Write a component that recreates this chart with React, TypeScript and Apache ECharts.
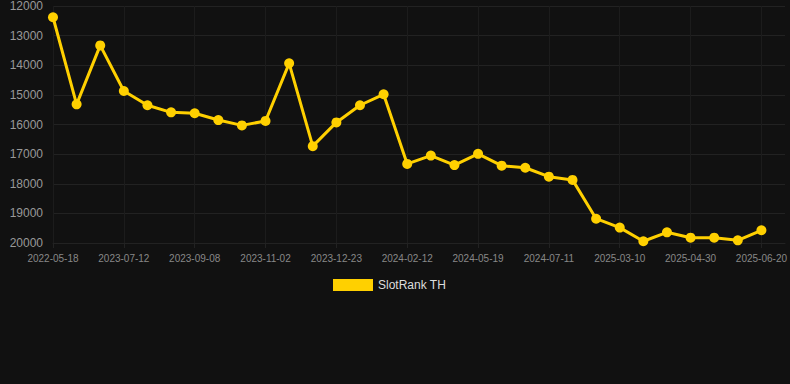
import React, { useEffect, useRef } from "react";
import * as echarts from "echarts";

const categories = [
  "2022-05-18", "2022-10-05", "2023-03-14", "2023-07-12", "2023-07-31", "2023-08-19",
  "2023-09-08", "2023-09-26", "2023-10-14", "2023-11-02", "2023-11-19", "2023-12-06",
  "2023-12-23", "2024-01-09", "2024-01-26", "2024-02-12", "2024-03-15", "2024-04-17",
  "2024-05-19", "2024-06-06", "2024-06-24", "2024-07-11", "2024-08-20", "2025-02-17",
  "2025-03-10", "2025-03-27", "2025-04-13", "2025-04-30", "2025-05-17", "2025-06-03",
  "2025-06-20", "2025-07-07",
];

const rankTH: (number | null)[] = [
  12380, 15320, 13330, 14870, 15350, 15590, 15620, 15850, 16030, 15880,
  13935, 16730, 15930, 15350, 14980, 17330, 17050, 17370, 16990, 17390,
  17460, 17760, 17870, 19180, 19480, 19940, 19640, 19820, 19820, 19910,
  19570, null,
];

const yTicks = { min: 12000, max: 20000, interval: 1000 };

const FONT = "'Liberation Sans', Arial, sans-serif";

export default function App() {
  const ref = useRef<HTMLDivElement>(null);
  useEffect(() => {
    if (!ref.current) return;
    const chart = echarts.init(ref.current, null, { renderer: "svg" });
    chart.setOption({
      animation: false,
      backgroundColor: "#111111",
      textStyle: { fontFamily: FONT },
      grid: { left: 53, right: 4, top: 6, bottom: 141 },
      legend: {
        data: ["SlotRank TH"],
        top: 274,
        left: 328,
        itemWidth: 40,
        itemHeight: 12,
        itemGap: 10,
        icon: "rect",
        textStyle: { color: "#dddddd", fontSize: 12, fontFamily: FONT },
      },
      xAxis: {
        type: "category",
        data: categories,
        boundaryGap: false,
        axisLine: { show: true, lineStyle: { color: "#222222" } },
        axisTick: { show: true, interval: 2, lineStyle: { color: "#222222" } },
        axisLabel: { interval: 2, color: "#888888", fontSize: 10, margin: 10, fontFamily: FONT },
        splitLine: { show: true, interval: 2, lineStyle: { color: "#1c1c1c" } },
      },
      yAxis: {
        type: "value",
        inverse: true,
        min: yTicks.min,
        max: yTicks.max,
        interval: yTicks.interval,
        axisLine: { show: false },
        axisTick: { show: false },
        axisLabel: {
          color: "#999999",
          fontSize: 12,
          margin: 10,
          fontFamily: FONT,
          formatter: (v: number) => String(v),
        },
        splitLine: { show: true, lineStyle: { color: "#222222" } },
      },
      series: [
        {
          name: "SlotRank TH",
          type: "line",
          data: rankTH,
          symbol: "circle",
          symbolSize: 10,
          itemStyle: { color: "#ffd000" },
          lineStyle: { color: "#ffd000", width: 3 },
        },
      ],
    });
    return () => chart.dispose();
  }, []);
  return <div ref={ref} style={{ width: 790, height: 384, position: "absolute", left: 0, top: 0 }} />;
}
